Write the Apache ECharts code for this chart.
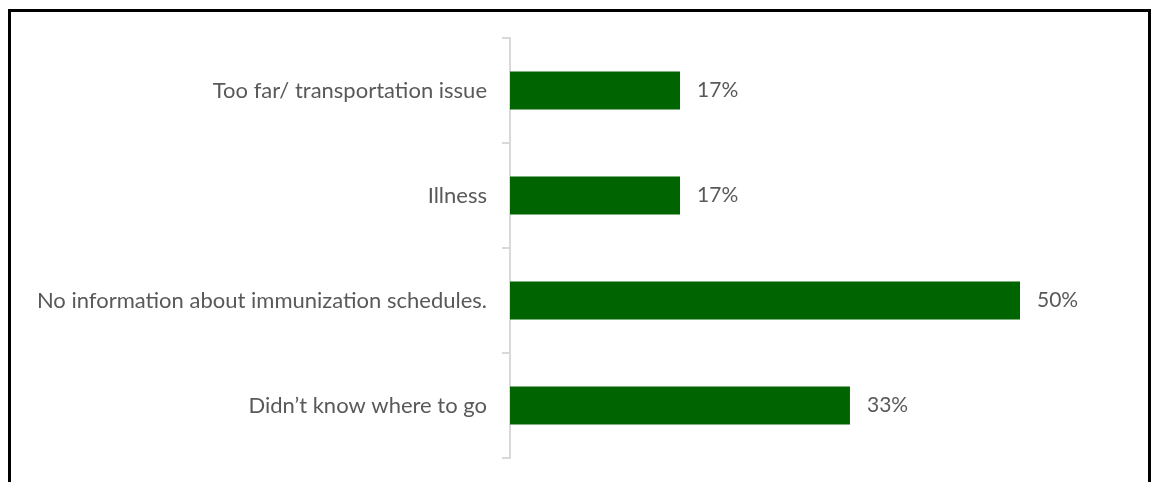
<!DOCTYPE html>
<html>
<head>
<meta charset="utf-8">
<script src="https://cdn.jsdelivr.net/npm/echarts@6/dist/echarts.min.js"></script>
<style>
  html, body { margin: 0; padding: 0; background: #fff; }
  #main { width: 1152px; height: 482px; }
</style>
</head>
<body>
<div id="main"></div>
<script>
// reasons, top to bottom
const categories = [
  "Too far/ transportation issue",
  "Illness",
  "No information about immunization schedules.",
  "Didn\u2019t know where to go"
];
// shares of respondents
const values = [0.1667, 0.1667, 0.5, 0.3333];

const chart = echarts.init(document.getElementById("main"));

chart.setOption({
  backgroundColor: "#fff",
  animation: false,
  graphic: [
    {
      type: "rect",
      shape: { x: 9.5, y: 10.5, width: 1140, height: 500 },
      style: { fill: "none", stroke: "#000", lineWidth: 3 },
      silent: true
    }
  ],
  grid: {
    left: 510,
    top: 38,
    width: 612,
    height: 420,
    outerBoundsMode: "none"
  },
  xAxis: {
    type: "value",
    min: 0,
    max: 0.6,
    show: false
  },
  yAxis: {
    type: "category",
    inverse: true,
    data: categories,
    axisLine: { show: true, lineStyle: { color: "#d9d9d9", width: 2 } },
    axisTick: {
      show: true,
      inside: false,
      alignWithLabel: false,
      length: 8,
      lineStyle: { color: "#d9d9d9", width: 2 }
    },
    axisLabel: {
      margin: 23,
      color: "#595959",
      fontFamily: "Lato",
      fontSize: 22
    }
  },
  series: [
    {
      type: "bar",
      data: values,
      barWidth: 38,
      itemStyle: { color: "#006400" },
      label: {
        show: true,
        position: "right",
        distance: 17,
        color: "#595959",
        fontFamily: "Lato",
        fontSize: 21,
        formatter: (p) => Math.round(p.value * 100) + "%"
      }
    }
  ]
});
</script>
</body>
</html>
